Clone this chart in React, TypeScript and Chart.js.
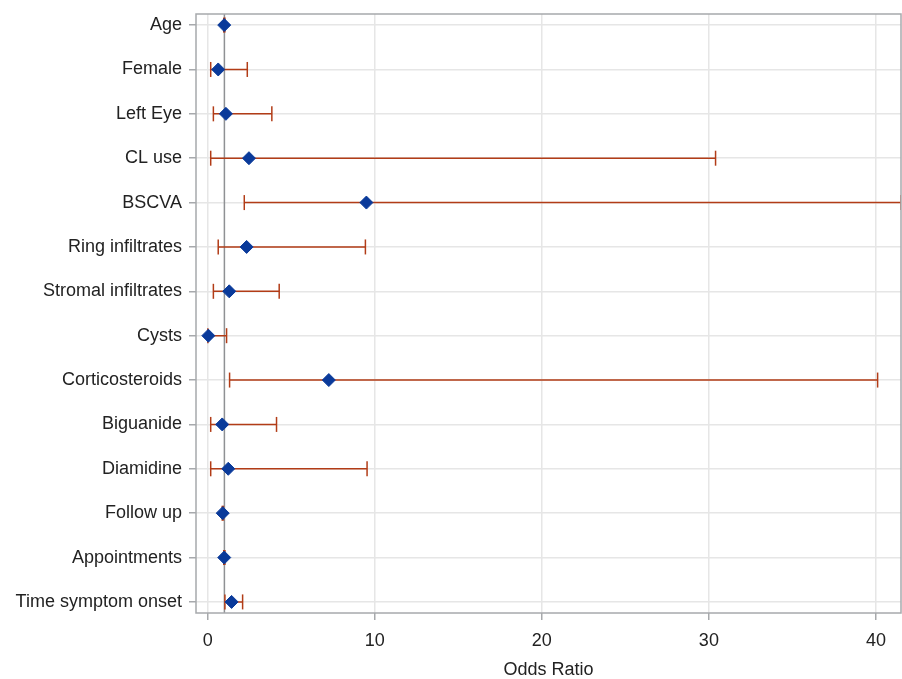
import React, { useEffect, useRef } from "react";
import { Chart, registerables } from "chart.js";

Chart.register(...registerables);

const categories = [
  "Age",
  "Female",
  "Left Eye",
  "CL use",
  "BSCVA",
  "Ring infiltrates",
  "Stromal infiltrates",
  "Cysts",
  "Corticosteroids",
  "Biguanide",
  "Diamidine",
  "Follow up",
  "Appointments",
  "Time symptom onset",
];
const oddsRatio = [0.99, 0.63, 1.09, 2.47, 9.5, 2.33, 1.29, 0.04, 7.25, 0.87, 1.23, 0.9, 0.99, 1.43];
const lowerCI = [0.96, 0.18, 0.34, 0.18, 2.19, 0.63, 0.34, 0.01, 1.31, 0.18, 0.18, 0.87, 0.96, 1.03];
const upperCI = [1.03, 2.37, 3.84, 30.4, 41.5, 9.44, 4.28, 1.13, 40.1, 4.12, 9.54, 0.94, 1.03, 2.09];
const xTicks = [0, 10, 20, 30, 40];
const referenceValue = 1;

const FONT = "'Liberation Sans', Arial, sans-serif";

export default function App() {
  const ref = useRef<HTMLCanvasElement | null>(null);

  useEffect(() => {
    document.body.style.margin = "0";
    const canvas = ref.current;
    if (!canvas) return;

    const yMin = -0.25;
    const yMax = categories.length - 1 + 0.25;

    const ciLines: any[] = [];
    const caps: any[] = [];
    categories.forEach((_, i) => {
      ciLines.push({ x: lowerCI[i], y: i }, { x: upperCI[i], y: i }, { x: NaN, y: NaN });
      caps.push({ x: lowerCI[i], y: i }, { x: upperCI[i], y: i });
    });
    const markers = categories.map((_, i) => ({ x: oddsRatio[i], y: i }));

    const frame = {
      id: "frame",
      afterDraw(chart: any) {
        const { ctx, chartArea } = chart;
        ctx.save();
        ctx.strokeStyle = "#a7a9ac";
        ctx.lineWidth = 1.5;
        ctx.strokeRect(chartArea.left, chartArea.top, chartArea.right - chartArea.left, chartArea.bottom - chartArea.top);
        ctx.restore();
      },
    };

    const chart = new Chart(canvas, {
      type: "scatter",
      data: {
        datasets: [
          {
            label: "OR",
            data: markers,
            pointStyle: "rectRot",
            pointRadius: 6.5,
            backgroundColor: "#0a3a9a",
            borderColor: "#0a3a9a",
            borderWidth: 1,
            order: 0,
          },
          {
            label: "caps",
            data: caps,
            pointStyle: "line",
            rotation: 90,
            pointRadius: 7.5,
            borderColor: "#b23c17",
            borderWidth: 1.5,
            order: 1,
          } as any,
          {
            label: "ci",
            data: ciLines,
            showLine: true,
            spanGaps: false,
            pointRadius: 0,
            borderColor: "#b23c17",
            borderWidth: 1.5,
            order: 2,
          },
          {
            label: "ref",
            data: [
              { x: referenceValue, y: yMin },
              { x: referenceValue, y: yMax },
            ],
            showLine: true,
            pointRadius: 0,
            borderColor: "#8f9194",
            borderWidth: 1.5,
            order: 3,
          },
        ],
      },
      options: {
        animation: false,
        responsive: false,
        layout: { autoPadding: false, padding: { top: 14, right: 1, left: 0, bottom: 0 } },
        plugins: { legend: { display: false }, tooltip: { enabled: false } },
        scales: {
          x: {
            type: "linear",
            min: -0.7,
            max: 41.5,
            afterBuildTicks: (s: any) => {
              s.ticks = xTicks.map((v) => ({ value: v }));
            },
            afterFit: (s: any) => {
              s.height = 66;
              s.paddingLeft = 0;
              s.paddingRight = 0;
            },
            ticks: { color: "#222", font: { family: FONT, size: 18 }, padding: 10, maxRotation: 0 },
            grid: { color: "#e6e6e6", lineWidth: 1.5, tickLength: 7, tickColor: "#a7a9ac" },
            border: { display: false },
            title: {
              display: true,
              text: "Odds Ratio",
              color: "#222",
              font: { family: FONT, size: 18, lineHeight: 1.0 },
              padding: { top: 4, bottom: 0 },
            },
          },
          y: {
            type: "linear",
            reverse: true,
            min: yMin,
            max: yMax,
            afterBuildTicks: (s: any) => {
              s.ticks = categories.map((_, i) => ({ value: i }));
            },
            afterFit: (s: any) => {
              s.width = 196;
              s.paddingTop = 0;
              s.paddingBottom = 0;
            },
            ticks: {
              color: "#222",
              font: { family: FONT, size: 18 },
              padding: 7,
              callback: (v: any) => categories[v as number] ?? "",
            },
            grid: { color: "#e6e6e6", lineWidth: 1.5, tickLength: 7, tickColor: "#a7a9ac" },
            border: { display: false },
          },
        },
      },
      plugins: [frame],
    });

    return () => chart.destroy();
  }, []);

  return <canvas ref={ref} width={902} height={679} style={{ display: "block" }} />;
}
